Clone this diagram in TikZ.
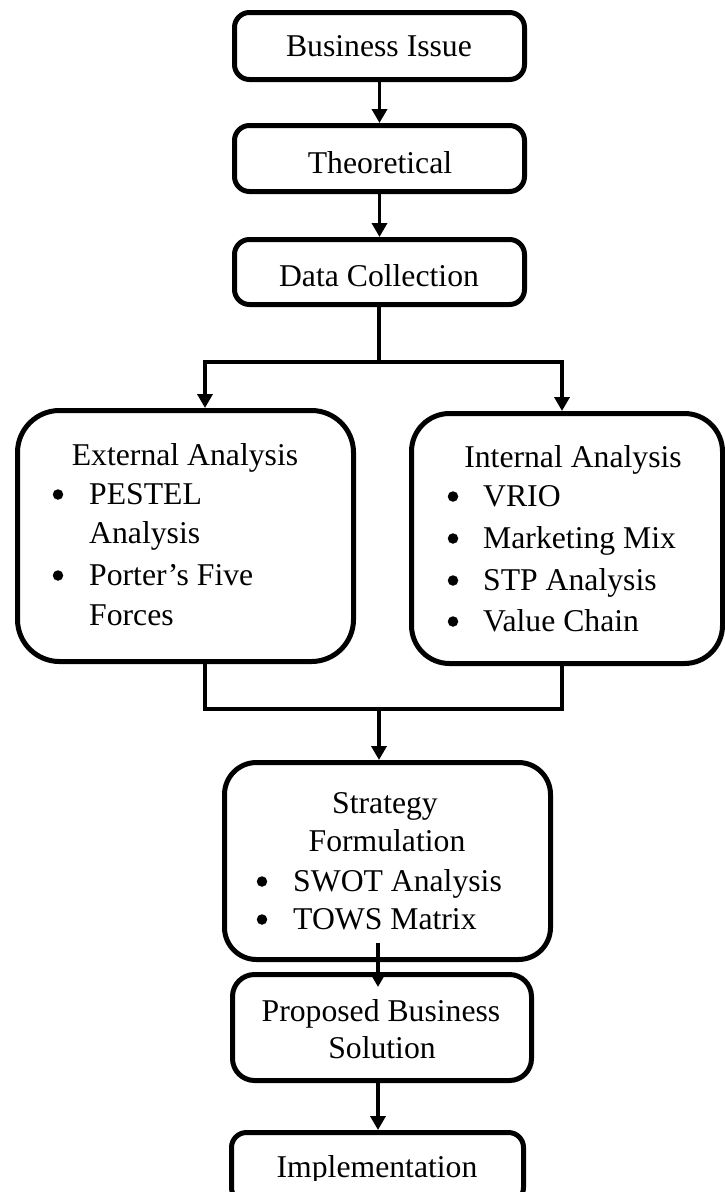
\documentclass[tikz,border=0pt]{standalone}
\usepackage{fontspec}
\setmainfont{Liberation Serif}
\usetikzlibrary{arrows.meta}
\begin{document}
\begin{tikzpicture}[x=1pt,y=-1pt,
  box/.style={draw, line width=5pt, inner sep=0pt, rounded corners=#1},
  conn/.style={line width=3.5pt, line join=miter},
  arr/.style={conn, -{Triangle[length=14pt,width=15pt]}},
  txt/.style={inner sep=0pt, anchor=base, font=\fontsize{31.7}{38}\selectfont},
  ltxt/.style={txt, anchor=base west},
  bul/.style={circle, fill=black, draw=none, inner sep=0pt, minimum size=10.5pt},
]
\useasboundingbox (0,0) rectangle (725,1192);
\clip (0,0) rectangle (725,1192);
% boxes
\node[box=15pt, minimum width=290pt, minimum height=67pt] (bi) at (379.5,46) {};
\node[box=15pt, minimum width=290pt, minimum height=66pt] (th) at (379.5,158.5) {};
\node[box=15pt, minimum width=290pt, minimum height=65pt] (dc) at (379.5,272) {};
\node[box=42pt, minimum width=336pt, minimum height=251pt] (ext) at (185.5,536) {};
\node[box=38pt, minimum width=311pt, minimum height=250pt] (int) at (567,538.5) {};
\node[box=32pt, minimum width=326pt, minimum height=197pt] (str) at (387.5,861) {};
\node[box=22pt, minimum width=299pt, minimum height=106pt] (pbs) at (382,1027.5) {};
\node[box=15pt, minimum width=292pt, minimum height=70pt] (imp) at (377.5,1167.5) {};
% texts
\node[txt] (tbi) at (379,56) {Business Issue};
\node[txt] (tth) at (380,173) {Theoretical};
\node[txt] (tdc) at (379,286) {Data Collection};
\node[txt] (text) at (185,465) {External Analysis};
\node[bul] (be1) at (58,494.5) {};
\node[ltxt] (te1) at (89,504) {PESTEL};
\node[ltxt] (te2) at (89,543) {Analysis};
\node[bul] (be2) at (58,575.5) {};
\node[ltxt] (te3) at (89,585) {Porter’s Five};
\node[ltxt] (te4) at (89,625) {Forces};
\node[txt] (tint) at (573,467) {Internal Analysis};
\node[bul] (bi1) at (453,496.5) {};
\node[ltxt] (ti1) at (483,506) {VRIO};
\node[bul] (bi2) at (453,538.5) {};
\node[ltxt] (ti2) at (483,548) {Marketing Mix};
\node[bul] (bi3) at (453,580.5) {};
\node[ltxt] (ti3) at (483,590) {STP Analysis};
\node[bul] (bi4) at (453,621.5) {};
\node[ltxt] (ti4) at (483,631) {Value Chain};
\node[txt] (ts1) at (385,813) {Strategy};
\node[txt] (ts2) at (387,851) {Formulation};
\node[bul] (bs1) at (262,881.5) {};
\node[ltxt] (ts3) at (293,891) {SWOT Analysis};
\node[bul] (bs2) at (262,919.5) {};
\node[ltxt] (ts4) at (293,929) {TOWS Matrix};
\node[txt] (tp1) at (381,1021) {Proposed Business};
\node[txt] (tp2) at (382,1058) {Solution};
\begin{scope}
\clip (0,0) rectangle (725,1180);
\node[txt] (timp) at (377,1177) {Implementation};
\end{scope}
% connectors
\draw[arr] (bi.south) -- (th.north);
\draw[arr] (th.south) -- (dc.north);
\coordinate (sl) at (205,362);
\coordinate (sr) at (562,362);
\coordinate (sm) at (379,362);
\draw[conn] (dc.south -| sm) -- (sm);
\draw[arr] (sm) -- (sl) -- (sl |- ext.north);
\draw[arr] (sm) -- (sr) -- (sr |- int.north);
\coordinate (ml) at (205,709);
\coordinate (mr) at (562,709);
\coordinate (mm) at (379,709);
\draw[conn] (ext.south -| ml) -- (ml) -- (mr) -- (int.south -| mr);
\draw[arr] (mm) -- (mm |- str.north);
\coordinate (s1) at (378,943);
\coordinate (s2) at (378,987);
\draw[arr] (s1) -- (s2);
\draw[arr] (pbs.south -| s1) -- (imp.north -| s1);
\end{tikzpicture}
\end{document}
